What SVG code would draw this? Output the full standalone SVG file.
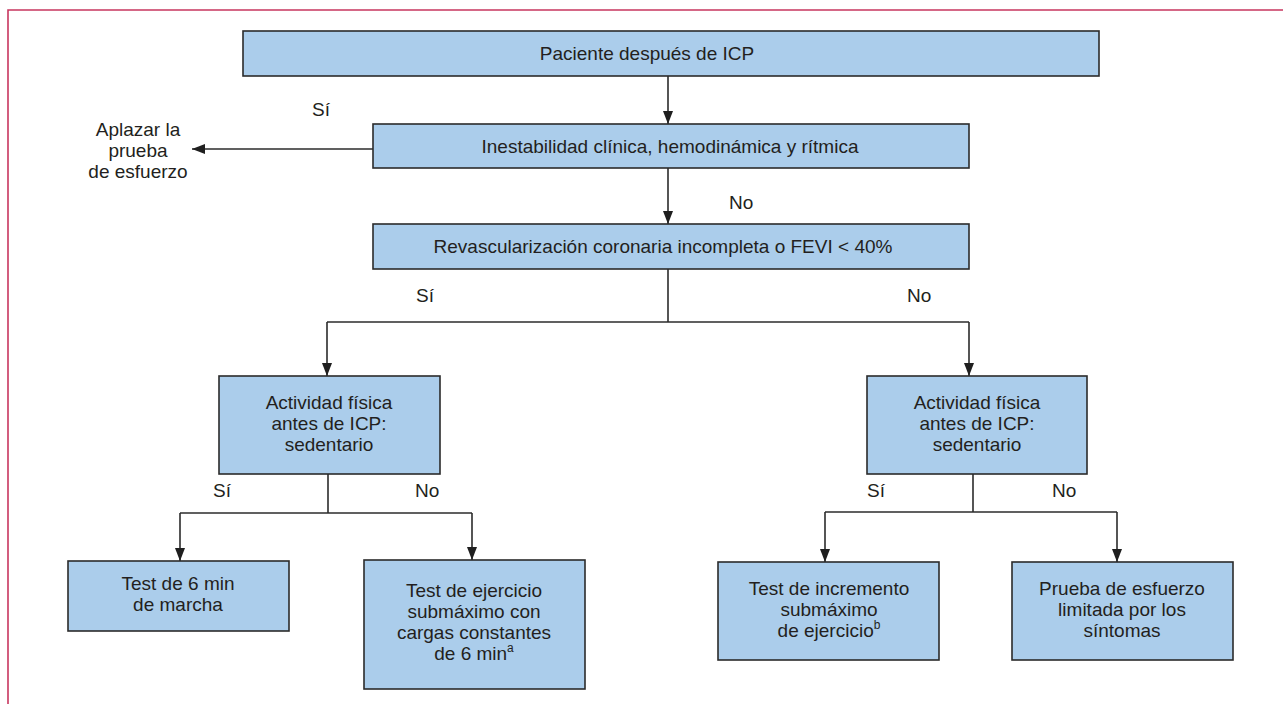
<svg xmlns="http://www.w3.org/2000/svg" width="1283" height="704" viewBox="0 0 1283 704">
  <defs>
    <style>
      .box { fill: #abcdeb; stroke: #2b2b2b; stroke-width: 1.6; }
      .wire { fill: none; stroke: #2b2b2b; stroke-width: 1.6; }
      .t { font-family: "Liberation Sans", Arial, sans-serif; font-size: 19px; fill: #231f20; }
      .c { text-anchor: middle; }
      .sup { font-size: 12px; }
    </style>
    <marker id="ah" markerUnits="userSpaceOnUse" markerWidth="14" markerHeight="12" viewBox="0 0 14 12" refX="13" refY="6" orient="auto">
      <path d="M0,1 L13,6 L0,11 Z" fill="#1f1f1f"/>
    </marker>
  </defs>

  <rect width="1283" height="704" fill="#ffffff"/>
  <!-- outer frame: top and left edges -->
  <path d="M8,704 V10 H1283" fill="none" stroke="#c8365f" stroke-width="1.6"/>

  <g id="connectors">
    <line class="wire" x1="668" y1="76" x2="668" y2="124" marker-end="url(#ah)"/>
    <line class="wire" x1="373" y1="149" x2="192" y2="149" marker-end="url(#ah)"/>
    <line class="wire" x1="668" y1="168" x2="668" y2="224" marker-end="url(#ah)"/>
    <line class="wire" x1="668" y1="269" x2="668" y2="322"/>
    <line class="wire" x1="327" y1="322" x2="969" y2="322"/>
    <line class="wire" x1="327" y1="322" x2="327" y2="376" marker-end="url(#ah)"/>
    <line class="wire" x1="969" y1="322" x2="969" y2="376" marker-end="url(#ah)"/>
    <line class="wire" x1="328" y1="474" x2="328" y2="513"/>
    <line class="wire" x1="180" y1="513" x2="472" y2="513"/>
    <line class="wire" x1="180" y1="513" x2="180" y2="561" marker-end="url(#ah)"/>
    <line class="wire" x1="472" y1="513" x2="472" y2="560" marker-end="url(#ah)"/>
    <line class="wire" x1="973" y1="474" x2="973" y2="512"/>
    <line class="wire" x1="825" y1="512" x2="1117" y2="512"/>
    <line class="wire" x1="825" y1="512" x2="825" y2="562" marker-end="url(#ah)"/>
    <line class="wire" x1="1117" y1="512" x2="1117" y2="562" marker-end="url(#ah)"/>
  </g>

  <g id="labels">
    <text class="t" x="312" y="116">Sí</text>
    <text class="t" x="729" y="209">No</text>
    <text class="t" x="416" y="302">Sí</text>
    <text class="t" x="907" y="302">No</text>
    <text class="t" x="213" y="497">Sí</text>
    <text class="t" x="415" y="497">No</text>
    <text class="t" x="867" y="497">Sí</text>
    <text class="t" x="1052" y="497">No</text>
  </g>

  <g id="aplazar">
    <text class="t c" x="138" y="136">Aplazar la</text>
    <text class="t c" x="138" y="157">prueba</text>
    <text class="t c" x="138" y="178">de esfuerzo</text>
  </g>

  <g id="paciente">
    <rect class="box" x="243" y="31" width="856" height="45"/>
    <text class="t c" x="647" y="60">Paciente después de ICP</text>
  </g>

  <g id="inestabilidad">
    <rect class="box" x="373" y="124" width="596" height="44"/>
    <text class="t c" x="670" y="153">Inestabilidad clínica, hemodinámica y rítmica</text>
  </g>

  <g id="revascularizacion">
    <rect class="box" x="373" y="224" width="596" height="45"/>
    <text class="t c" x="663" y="253">Revascularización coronaria incompleta o FEVI &lt; 40%</text>
  </g>

  <g id="actividad-izq">
    <rect class="box" x="219" y="376" width="221" height="98"/>
    <text class="t c" x="329" y="409">Actividad física</text>
    <text class="t c" x="329" y="430">antes de ICP:</text>
    <text class="t c" x="329" y="451">sedentario</text>
  </g>

  <g id="actividad-der">
    <rect class="box" x="867" y="376" width="220" height="98"/>
    <text class="t c" x="977" y="409">Actividad física</text>
    <text class="t c" x="977" y="430">antes de ICP:</text>
    <text class="t c" x="977" y="451">sedentario</text>
  </g>

  <g id="test-6min">
    <rect class="box" x="68" y="561" width="221" height="70"/>
    <text class="t c" x="178" y="590">Test de 6 min</text>
    <text class="t c" x="178" y="611">de marcha</text>
  </g>

  <g id="test-cargas">
    <rect class="box" x="364" y="560" width="221" height="129"/>
    <text class="t c" x="474" y="597">Test de ejercicio</text>
    <text class="t c" x="474" y="618">submáximo con</text>
    <text class="t c" x="474" y="639">cargas constantes</text>
    <text class="t c" x="474" y="660">de 6 min<tspan class="sup" dy="-8">a</tspan></text>
  </g>

  <g id="test-incremento">
    <rect class="box" x="718" y="562" width="221" height="98"/>
    <text class="t c" x="829" y="595">Test de incremento</text>
    <text class="t c" x="829" y="616">submáximo</text>
    <text class="t c" x="829" y="637">de ejercicio<tspan class="sup" dy="-8">b</tspan></text>
  </g>

  <g id="prueba-limitada">
    <rect class="box" x="1012" y="562" width="221" height="98"/>
    <text class="t c" x="1122" y="595">Prueba de esfuerzo</text>
    <text class="t c" x="1122" y="616">limitada por los</text>
    <text class="t c" x="1122" y="637">síntomas</text>
  </g>
</svg>
